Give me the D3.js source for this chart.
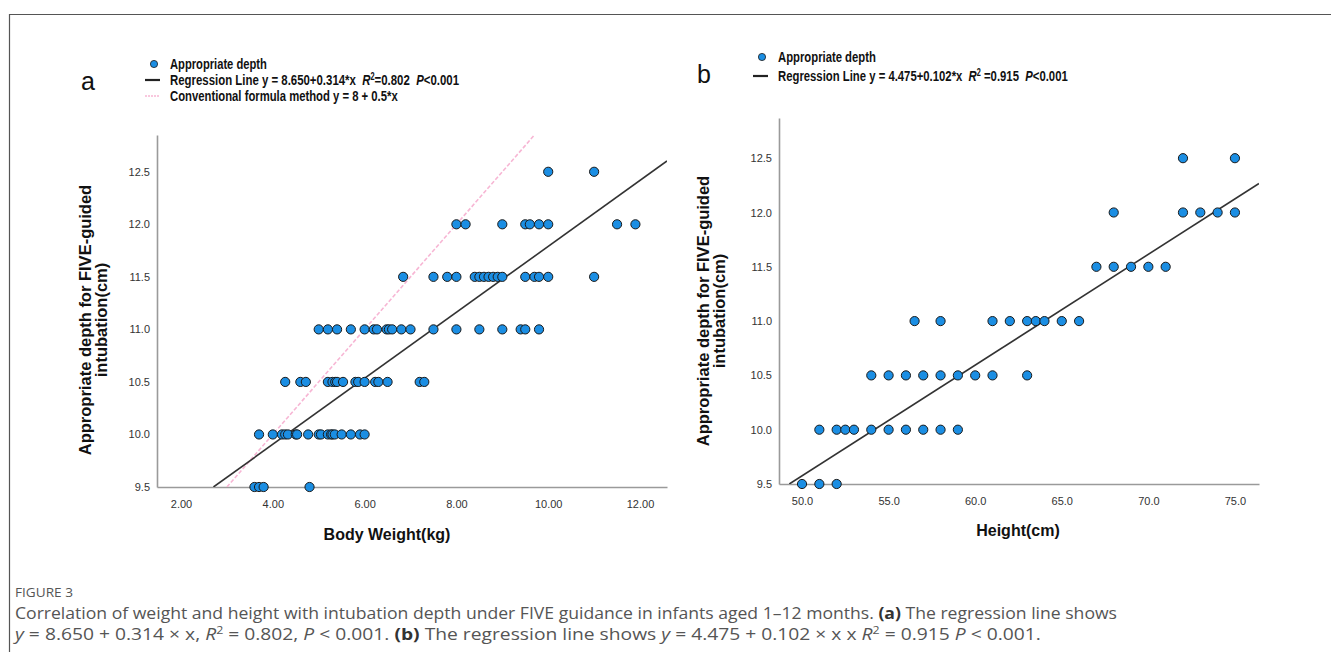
<!DOCTYPE html>
<html>
<head>
<meta charset="utf-8">
<script src="https://cdn.jsdelivr.net/npm/d3@7"></script>
<style>
  body { margin: 0; background: #fff; }
  svg { display: block; }
</style>
</head>
<body>
<div id="chart"></div>
<script>
// panel a: body weight (kg) grouped by appropriate depth (cm)
const depthLevels = [9.5, 10.0, 10.5, 11.0, 11.5, 12.0, 12.5];
const weightsByDepth = [
  [3.6, 3.7, 3.8, 4.8],
  [3.7, 4.0, 4.2, 4.27, 4.33, 4.5, 4.53, 4.77, 5.0, 5.05, 5.2, 5.27, 5.3, 5.35, 5.5, 5.7, 5.9, 6.0],
  [4.27, 4.6, 4.72, 5.2, 5.3, 5.36, 5.4, 5.53, 5.8, 5.86, 6.0, 6.23, 6.3, 6.5, 7.2, 7.3],
  [5.0, 5.2, 5.4, 5.7, 6.0, 6.2, 6.27, 6.48, 6.53, 6.6, 6.8, 7.0, 7.5, 8.0, 8.5, 9.0, 9.4, 9.5, 9.8],
  [6.84, 7.5, 7.8, 8.0, 8.4, 8.5, 8.6, 8.7, 8.8, 8.9, 9.0, 9.5, 9.7, 9.8, 10.0, 11.0],
  [8.0, 8.2, 9.0, 9.5, 9.6, 9.8, 10.0, 11.5, 11.9],
  [10.0, 11.0]
];
// panel b: height (cm) grouped by appropriate depth (cm)
const heightsByDepth = [
  [50, 51, 52],
  [51, 52, 52.5, 53, 54, 55, 56, 57, 58, 59],
  [54, 55, 56, 57, 58, 59, 60, 61, 63],
  [56.5, 58, 61, 62, 63, 63.5, 64, 65, 66],
  [67, 68, 69, 70, 71],
  [68, 72, 73, 74, 75],
  [72, 75]
];
const weightTicks = [2, 4, 6, 8, 10, 12];
const heightTicks = [50, 55, 60, 65, 70, 75];
const depthTicks = [9.5, 10.0, 10.5, 11.0, 11.5, 12.0, 12.5];

const regA = { a: 8.650, b: 0.314 };
const convA = { a: 8, b: 0.5 };
const regB = { a: 4.475, b: 0.102 };

const width = 1331, height = 652;
const svg = d3.select('#chart').append('svg')
  .attr('width', width).attr('height', height);

const sans = '"Liberation Sans", Arial, sans-serif';
const blue = '#1b8ee3';

// figure frame
svg.append('path')
  .attr('d', `M9.5,${height} V14.5 H${width}`)
  .attr('fill', 'none').attr('stroke', '#555').attr('stroke-width', 1.2);

function pairs(xsByDepth) {
  const out = [];
  xsByDepth.forEach((xs, i) => xs.forEach(x => out.push({ x: x, y: depthLevels[i] })));
  return out;
}

// squeeze a text horizontally to a given width (keeps glyph height)
function squeeze(text, x, y, len) {
  const w = text.node().getComputedTextLength();
  text.attr('transform', `translate(${x},${y}) scale(${len / w},1)`);
}

function panel(opt) {
  const x = d3.scaleLinear().domain(opt.xDomain).range(opt.xRange);
  const y = d3.scaleLinear().domain(opt.yDomain).range(opt.yRange);
  const g = svg.append('g');

  // axes (no tick marks, gray lines)
  const xAxis = g.append('g')
    .attr('transform', `translate(0,${opt.yRange[0]})`)
    .call(d3.axisBottom(x).tickValues(opt.xTicks).tickSize(0).tickPadding(13)
      .tickFormat(opt.xFormat));
  const yAxis = g.append('g')
    .attr('transform', `translate(${opt.xRange[0]},0)`)
    .call(d3.axisLeft(y).tickValues(depthTicks).tickSize(0).tickPadding(7)
      .tickFormat(d3.format('.1f')));
  [xAxis, yAxis].forEach(a => {
    a.select('.domain').attr('stroke', '#9a9a9a').attr('stroke-width', 1.6);
    a.selectAll('text').attr('fill', '#333').attr('font-size', 11)
      .attr('font-family', sans);
  });

  const clipId = 'clip' + opt.id;
  svg.append('clipPath').attr('id', clipId).append('rect')
    .attr('x', opt.xRange[0]).attr('y', opt.yRange[1])
    .attr('width', opt.xRange[1] - opt.xRange[0])
    .attr('height', opt.yRange[0] - opt.yRange[1]);

  const lineG = g.append('g').attr('clip-path', `url(#${clipId})`);
  opt.lines.forEach(l => {
    const x0 = (opt.yDomain[0] - l.a) / l.b;
    const x1 = Math.min(opt.xDomain[1], (opt.yDomain[1] - l.a) / l.b);
    lineG.append('line')
      .attr('x1', x(x0)).attr('y1', y(l.a + l.b * x0))
      .attr('x2', x(x1)).attr('y2', y(l.a + l.b * x1))
      .attr('stroke', l.color).attr('stroke-width', l.w)
      .attr('stroke-dasharray', l.dash || null);
  });

  g.append('g').selectAll('circle')
    .data(opt.points).enter().append('circle')
    .attr('cx', d => x(d.x)).attr('cy', d => y(d.y)).attr('r', 4.6)
    .attr('fill', blue).attr('stroke', '#1a1a1a').attr('stroke-width', 1);

  // axis titles
  g.append('text')
    .attr('x', (opt.xRange[0] + opt.xRange[1]) / 2 + opt.xTitleShift)
    .attr('y', opt.xTitleY)
    .attr('text-anchor', 'middle').attr('font-family', sans)
    .attr('font-weight', 'bold').attr('font-size', 16).attr('fill', '#111')
    .text(opt.xTitle);
  const cy = (opt.yRange[0] + opt.yRange[1]) / 2 + opt.yTitleShift;
  ['Appropriate depth for FIVE-guided', 'intubation(cm)'].forEach((t, i) => {
    g.append('text')
      .attr('transform', `translate(${opt.yTitleX + i * 16},${cy}) rotate(-90)`)
      .attr('text-anchor', 'middle').attr('font-family', sans)
      .attr('font-weight', 'bold').attr('font-size', 16.5).attr('fill', '#111')
      .text(t);
  });
  return { x, y };
}

panel({
  id: 'a',
  xDomain: [1.477, 12.588], xRange: [157, 667],
  yDomain: [9.5, 12.85], yRange: [487, 135],
  xTicks: weightTicks, xFormat: d3.format('.2f'),
  points: pairs(weightsByDepth),
  lines: [
    { a: convA.a, b: convA.b, color: '#f7b6d4', w: 1.6, dash: '4,2' },
    { a: regA.a, b: regA.b, color: '#333', w: 1.6 }
  ],
  xTitle: 'Body Weight(kg)', xTitleY: 540, xTitleShift: -25,
  yTitleX: 91, yTitleShift: 9
});

panel({
  id: 'b',
  xDomain: [48.67, 76.39], xRange: [779, 1259],
  yDomain: [9.5, 12.87], yRange: [484, 118],
  xTicks: heightTicks, xFormat: d3.format('.1f'),
  points: pairs(heightsByDepth),
  lines: [{ a: regB.a, b: regB.b, color: '#333', w: 1.6 }],
  xTitle: 'Height(cm)', xTitleY: 536, xTitleShift: -1,
  yTitleX: 709, yTitleShift: 10
});

// panel letters
svg.append('text').attr('x', 81).attr('y', 90).attr('font-family', sans)
  .attr('font-size', 25).attr('fill', '#111').text('a');
svg.append('text').attr('x', 697).attr('y', 83).attr('font-family', sans)
  .attr('font-size', 25).attr('fill', '#111').text('b');

// legends
function legend(x0, y0, step, rows) {
  const g = svg.append('g').attr('font-family', sans).attr('font-weight', 'bold')
    .attr('font-size', 15.5).attr('fill', '#111');
  rows.forEach((r, i) => {
    const yy = y0 + i * step;
    if (r.kind === 'dot') {
      g.append('circle').attr('cx', x0 + 9).attr('cy', yy).attr('r', 3.6)
        .attr('fill', blue).attr('stroke', '#1a1a1a').attr('stroke-width', 0.8);
    } else {
      g.append('line').attr('x1', x0).attr('x2', x0 + 15).attr('y1', yy).attr('y2', yy)
        .attr('stroke', r.color).attr('stroke-width', r.dash ? 1.3 : 2.2)
        .attr('stroke-dasharray', r.dash || null);
    }
    const t = g.append('text');
    r.parts.forEach(p => {
      const s = t.append('tspan').text(p.t);
      if (p.i) s.attr('font-style', 'italic');
      if (p.sup) s.attr('font-size', 10).attr('dy', -5);
      if (p.down) s.attr('dy', 5);
    });
    squeeze(t, x0 + 25, yy + 5, r.len);
  });
}

legend(145, 64, 16, [
  { kind: 'dot', len: 97, parts: [{ t: 'Appropriate depth' }] },
  { kind: 'line', color: '#222', len: 289, parts: [
    { t: 'Regression Line y = 8.650+0.314*x\u00a0\u00a0' }, { t: 'R', i: true }, { t: '2', sup: true },
    { t: '=0.802\u00a0\u00a0', down: true }, { t: 'P', i: true }, { t: '<0.001' }] },
  { kind: 'line', color: '#f7b6d4', dash: '2,1', len: 228, parts: [{ t: 'Conventional formula method y = 8 + 0.5*x' }] }
]);

legend(753, 57, 19, [
  { kind: 'dot', len: 98, parts: [{ t: 'Appropriate depth' }] },
  { kind: 'line', color: '#222', len: 290, parts: [
    { t: 'Regression Line y = 4.475+0.102*x\u00a0\u00a0' }, { t: 'R', i: true }, { t: '2', sup: true },
    { t: ' =0.915\u00a0\u00a0', down: true }, { t: 'P', i: true }, { t: '<0.001' }] }
]);

// caption
const cap = svg.append('g').attr('font-family', '"Open Sans", Lato, sans-serif').attr('fill', '#555');
const figLabel = cap.append('text').attr('font-size', 12.5).text('FIGURE 3');
squeeze(figLabel, 15, 597, 58);

function capLine(y, len, parts) {
  const t = cap.append('text').attr('font-size', 15.5);
  parts.forEach(p => {
    const s = t.append('tspan').text(p.t);
    if (p.b) s.attr('font-weight', 'bold').attr('fill', '#333');
    if (p.i) s.attr('font-style', 'italic');
    if (p.sup) s.attr('font-size', 10).attr('dy', -6);
    if (p.down) s.attr('dy', 6);
  });
  squeeze(t, 15, y, len);
}
capLine(619, 1103, [
  { t: 'Correlation of weight and height with intubation depth under FIVE guidance in infants aged 1\u201312 months. ' },
  { t: '(a)', b: true }, { t: ' The regression line shows' }
]);
capLine(640, 1027, [
  { t: 'y', i: true }, { t: ' = 8.650 + 0.314 \u00d7 x, ' }, { t: 'R', i: true }, { t: '2', sup: true },
  { t: ' = 0.802, ', down: true }, { t: 'P', i: true }, { t: ' < 0.001. ' }, { t: '(b)', b: true },
  { t: ' The regression line shows ' }, { t: 'y', i: true }, { t: ' = 4.475 + 0.102 \u00d7 x x ' },
  { t: 'R', i: true }, { t: '2', sup: true }, { t: ' = 0.915 ', down: true }, { t: 'P', i: true },
  { t: ' < 0.001.' }
]);
</script>
</body>
</html>
